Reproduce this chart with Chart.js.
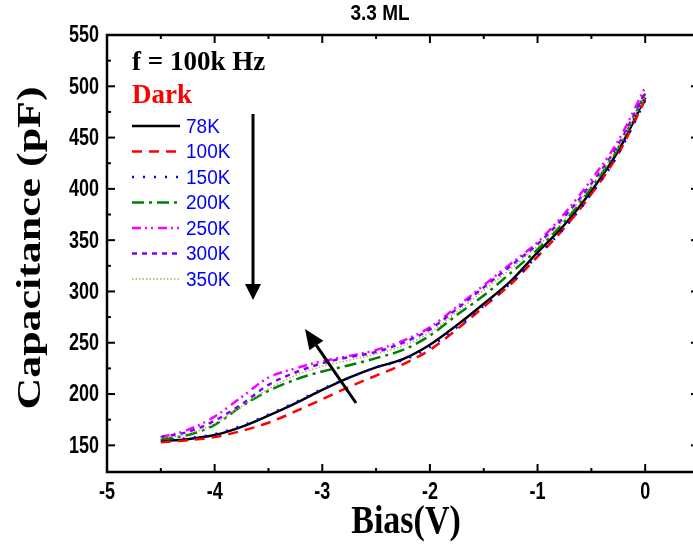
<!DOCTYPE html>
<html><head><meta charset="utf-8">
<script src="https://cdn.jsdelivr.net/npm/chart.js@4"></script>
<style>
html,body{margin:0;padding:0;background:#fff;overflow:hidden;width:693px;height:547px}
#wrap{width:710px;height:547px}
canvas{display:block}
</style></head><body>
<div id="wrap"><canvas id="c" width="710" height="547"></canvas></div>
<script>
const bias = [-4.5,-4.25,-4.0,-3.75,-3.5,-3.25,-3.0,-2.75,-2.5,-2.25,-2.0,-1.75,-1.5,-1.25,-1.0,-0.75,-0.5,-0.25,0];
const c78K  = [154,156,160,168,179,191,204,216,226,234,248,267,288,310,338,365,398,437,489];
const c100K = [153,155,158,164,172,183,195,207,218,229,243,263,285,307,334,362,395,434,487];
const c150K = [155,157,161,169,180,192,205,216,226,233,246,265,286,308,335,362,395,434,486];
const c200K = [156,160,170,188,203,214,222,228,235,243,257,277,296,318,341,368,401,440,493];
const c250K = [158,165,178,197,216,225,232,237,243,252,265,285,306,327,348,376,409,447,499];
const c300K = [158,163,174,190,209,221,230,236,241,250,263,283,304,325,346,373,405,443,494];
const c350K = [157,161,171,188,205,218,227,233,239,247,260,280,301,322,344,370,403,441,490];
const seriesNames = ['78K','100K','150K','200K','250K','300K','350K'];
const xTicks = [-5,-4,-3,-2,-1,0];
const xMinor = [-4.5,-3.5,-2.5,-1.5,-0.5];
const yTicks = [150,200,250,300,350,400,450,500,550];
const yMinor = [175,225,275,325,375,425,475,525];
const titleText = '3.3 ML';
const xTitle = 'Bias(V)';
const yTitle = 'Capacitance (pF)';
const freqText = 'f = 100k Hz';
const darkText = 'Dark';

const styles = [
  {color:'#000000', dash:[], w:2.5},
  {color:'#ff0000', dash:[10,7], w:2.5},
  {color:'#0000ff', dash:[2,9], w:2.5},
  {color:'#008000', dash:[12,5,3,5], w:2.5},
  {color:'#ff00ff', dash:[9,4,2,4,2,5], w:2.5},
  {color:'#8000ff', dash:[5,5], w:2.5},
  {color:'#b0b060', dash:[1.5,2], w:1.5}
];
const allSeries = [c78K,c100K,c150K,c200K,c250K,c300K,c350K];

const datasets = allSeries.map((arr,i)=>({
  label: seriesNames[i],
  data: bias.map((x,j)=>({x:x,y:arr[j]})),
  borderColor: styles[i].color,
  borderDash: styles[i].dash,
  borderWidth: styles[i].w,
  pointRadius: 0,
  fill: false,
  cubicInterpolationMode: 'monotone'
})).reverse();

function arrow(ctx,x1,y1,x2,y2,hl,hw){
  const a = Math.atan2(y2-y1,x2-x1);
  const bx = x2 - hl*Math.cos(a), by = y2 - hl*Math.sin(a);
  ctx.beginPath(); ctx.moveTo(x1,y1); ctx.lineTo(bx,by); ctx.stroke();
  ctx.beginPath();
  ctx.moveTo(x2,y2);
  ctx.lineTo(bx + hw/2*Math.sin(a), by - hw/2*Math.cos(a));
  ctx.lineTo(bx - hw/2*Math.sin(a), by + hw/2*Math.cos(a));
  ctx.closePath(); ctx.fill();
}
function stretchText(ctx,t,x,y,sy){
  ctx.save(); ctx.translate(x,y); ctx.scale(1,sy); ctx.fillText(t,0,0); ctx.restore();
}

const decor = {
  id:'decor',
  afterDraw(chart){
    const ctx = chart.ctx, a = chart.chartArea;
    const xs = chart.scales.x, ys = chart.scales.y;
    ctx.save();
    ctx.strokeStyle='#000'; ctx.fillStyle='#000';
    ctx.lineWidth = 2.5; ctx.setLineDash([]);
    ctx.strokeRect(a.left,a.top,a.right-a.left,a.bottom-a.top);
    ctx.lineWidth = 2;
    const tick=(x1,y1,x2,y2)=>{ctx.beginPath();ctx.moveTo(x1,y1);ctx.lineTo(x2,y2);ctx.stroke();};
    xTicks.forEach(v=>{const p=xs.getPixelForValue(v); tick(p,a.bottom,p,a.bottom-8); tick(p,a.top,p,a.top+8);});
    xMinor.forEach(v=>{const p=xs.getPixelForValue(v); tick(p,a.bottom,p,a.bottom-4); tick(p,a.top,p,a.top+4);});
    yTicks.forEach(v=>{const p=ys.getPixelForValue(v); tick(a.left,p,a.left+8,p); tick(a.right,p,a.right-8,p);});
    yMinor.forEach(v=>{const p=ys.getPixelForValue(v); tick(a.left,p,a.left+4,p); tick(a.right,p,a.right-4,p);});
    // tick labels
    ctx.font = 'bold 18px "Liberation Sans", Arial, sans-serif';
    ctx.textAlign='center'; ctx.textBaseline='middle';
    xTicks.forEach(v=>{const p=xs.getPixelForValue(v); stretchText(ctx,String(v), p, 493, 1.3);});
    ctx.textAlign='right';
    yTicks.forEach(v=>{const p=ys.getPixelForValue(v); stretchText(ctx,String(v), 99, p+1, 1.3);});
    // axis titles
    ctx.font = 'bold 34px "Liberation Serif", "Times New Roman", serif';
    ctx.textAlign='center'; ctx.textBaseline='middle';
    stretchText(ctx, xTitle, 406, 522, 1.2);
    ctx.font = 'bold 33px "Liberation Serif", "Times New Roman", serif';
    ctx.save(); ctx.translate(31,248); ctx.rotate(-Math.PI/2); ctx.scale(1.33,1); ctx.fillText(yTitle,0,0); ctx.restore();
    // title
    ctx.font = 'bold 19px "Liberation Sans", Arial, sans-serif';
    stretchText(ctx, titleText, 380, 14, 1.15);
    // legend
    ctx.textAlign='left'; ctx.textBaseline='alphabetic';
    ctx.font = 'bold 27px "Liberation Serif", "Times New Roman", serif';
    ctx.fillStyle='#000'; ctx.fillText(freqText, 132, 70);
    ctx.fillStyle='#ff0000'; ctx.fillText(darkText, 132, 103);
    ctx.font = '19px "Liberation Sans", Arial, sans-serif';
    ctx.textBaseline='middle';
    seriesNames.forEach((n,i)=>{
      const y = 126 + i*25.5;
      ctx.strokeStyle = styles[i].color; ctx.lineWidth = styles[i].w; ctx.setLineDash(styles[i].dash);
      ctx.beginPath(); ctx.moveTo(132,y); ctx.lineTo(180,y); ctx.stroke();
      ctx.fillStyle='#0000ff'; stretchText(ctx, n, 186, y+1, 1.1);
    });
    ctx.setLineDash([]);
    ctx.strokeStyle='#000'; ctx.fillStyle='#000'; ctx.lineWidth=3;
    arrow(ctx,253,114,253,300,16,16);
    arrow(ctx,356,403,305,329,20,17);
    ctx.restore();
  }
};

new Chart(document.getElementById('c'), {
  type:'line',
  data:{datasets:datasets},
  options:{
    responsive:false, animation:false, devicePixelRatio:1,
    layout:{padding:{left:0,right:11,top:35,bottom:0}},
    plugins:{legend:{display:false}, tooltip:{enabled:false}, title:{display:false}},
    scales:{
      x:{type:'linear', min:-5, max:0.5,
         grid:{display:false, drawTicks:false}, border:{display:false},
         ticks:{display:false},
         afterBuildTicks:s=>{s.ticks = xTicks.map(v=>({value:v}));},
         afterFit:s=>{s.height = 75;}},
      y:{type:'linear', min:124, max:550,
         grid:{display:false, drawTicks:false}, border:{display:false},
         ticks:{display:false},
         afterBuildTicks:s=>{s.ticks = yTicks.map(v=>({value:v}));},
         afterFit:s=>{s.width = 107;}}
    }
  },
  plugins:[decor]
});
</script>
</body></html>
